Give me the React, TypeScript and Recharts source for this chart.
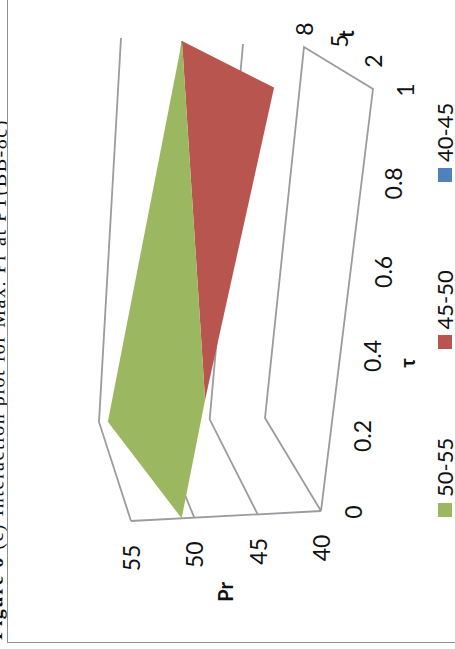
import React from 'react';
import { ScatterChart, Scatter, XAxis, YAxis, Polygon } from 'recharts';

const tauTicks = [0, 0.2, 0.4, 0.6, 0.8, 1];
const tTicks = [2, 5, 8];
const prTicks = [40, 45, 50, 55];

// surface corners as [tau, t, Pr]
const band5055: number[][] = [[0, 2, 51], [0, 8, 54.2], [1, 8, 50], [0.3, 2, 50]];
const band4550: number[][] = [[1, 8, 50], [1, 2, 47.1], [0.3, 2, 50]];

const legendNames = ['50-55', '45-50', '40-45'];

const GREEN = '#9bb75f';
const RED = '#b9554f';
const BLUE = '#4f81bd';
const legendColors = [GREEN, RED, BLUE];
const GRID = '#9b9ba0';
const FONT = 'Lato, sans-serif';

// box corners of the 3D view on the (rotated) page, Pr 40 then Pr 55
const floor = { a: [138, 321], b: [560, 373], c: [602, 304], d: [231, 265] };
const roof = { a: [128, 131], b: [563, 164], c: [611, 121], d: [227, 99] };

const mix = (p: number[], q: number[], f: number) => [p[0] + (q[0] - p[0]) * f, p[1] + (q[1] - p[1]) * f];

function project(tau: number, t: number, pr: number) {
  // tau axis is foreshortened a little by the perspective
  const k = 0.88;
  const a = (tau * k) / (1 + (k - 1) * tau);
  const s = (t - 2) / 6;
  const h = (pr - 40) / 15;
  const low = mix(mix(floor.a, floor.b, a), mix(floor.d, floor.c, a), s);
  const high = mix(mix(roof.a, roof.b, a), mix(roof.d, roof.c, a), s);
  const [u, v] = mix(low, high, h);
  return { u, v };
}

const toPoints = (rows: number[][]) => rows.map(([tau, t, pr]) => project(tau, t, pr));

const floorLine = toPoints([[0, 2, 40], [0, 8, 40], [1, 8, 40], [1, 2, 40], [0, 2, 40]]);
const prAxisLine = toPoints([[0, 2, 40], [0, 2, 55]]);
const wallLines = prTicks.slice(1).map(pr => toPoints([[0, 2, pr], [0, 8, pr], [1, 8, pr]]));

const tShift = [28, 27, 18];
const tauLabels = tauTicks.map(tau => {
  const p = project(tau, 2, 40);
  return { u: p.u - 1, v: p.v + 32, label: String(tau) };
});
const prLabels = prTicks.map(pr => {
  const p = project(0, 2, pr);
  return { u: p.u - 37, v: p.v, label: String(pr) };
});
const tLabels = tTicks.map((t, i) => {
  const p = project(1, t, 40);
  return { u: p.u + tShift[i], v: p.v, label: String(t) };
});
const titles = [
  { u: 57, v: 225, label: 'Pr' },
  { u: 286, v: 407, label: 'τ' },
  { u: 615, v: 346, label: 't' }
];

const noDot = () => <g />;

const fillShape = (color: string) => (props: any) => (
  <Polygon points={props.points} fill={color} stroke="none" />
);

const textDot = (bold: boolean) => (props: any) => (
  <text
    x={props.cx}
    y={props.cy}
    textAnchor="middle"
    dominantBaseline="central"
    fontFamily={FONT}
    fontSize={bold ? 20 : 23}
    fontWeight={bold ? 700 : 400}
    fill="#111"
  >
    {props.payload.label}
  </text>
);

export default function App() {
  return (
    <div style={{ position: 'fixed', left: 0, top: 0, width: 455, height: 649, overflow: 'hidden', background: '#fff' }}>
      <div
        style={{
          position: 'absolute',
          left: 0,
          top: 0,
          width: 649,
          height: 455,
          transformOrigin: '0 0',
          transform: 'translateY(649px) rotate(-90deg)'
        }}
      >
        {/* caption of the scanned page, cut by the chart frame and slightly tilted */}
        <div style={{ position: 'absolute', left: 0, top: 0, width: 649, height: 7, overflow: 'hidden' }}>
          <div
            style={{
              position: 'absolute',
              left: 9,
              top: -17,
              whiteSpace: 'nowrap',
              fontFamily: '"Liberation Serif", serif',
              fontSize: 20,
              letterSpacing: 1.55,
              lineHeight: '24px',
              color: '#111',
              transformOrigin: '0 50%',
              transform: 'rotate(0.5deg)'
            }}
          >
            <b>Figure 6</b> (c) Interaction plot for Max. Pr at PT(BB-8c)
          </div>
        </div>
        <div
          style={{
            position: 'absolute',
            left: 6,
            top: 7,
            right: 0,
            bottom: 0,
            borderLeft: '1.5px solid #909090',
            borderTop: '1.5px solid #909090'
          }}
        />
        <div
          style={{
            position: 'absolute',
            left: 132,
            top: 432,
            display: 'flex',
            fontFamily: FONT,
            fontSize: 22,
            lineHeight: '26px',
            color: '#111'
          }}
        >
          {legendNames.map((name, i) => (
            <div key={name} style={{ width: 167.5, flex: 'none', display: 'flex', alignItems: 'center', whiteSpace: 'nowrap' }}>
              <span style={{ width: 14, height: 14, flex: 'none', background: legendColors[i], marginRight: 6 }} />
              {name}
            </div>
          ))}
        </div>
        <ScatterChart width={649} height={455} margin={{ top: 0, right: 0, bottom: 0, left: 0 }} style={{ position: 'absolute', left: 0, top: 0 }}>
          <XAxis type="number" dataKey="u" domain={[0, 649]} hide />
          <YAxis type="number" dataKey="v" domain={[0, 455]} reversed hide />
          <Scatter data={floorLine} shape={noDot} line={{ stroke: GRID, strokeWidth: 1.8 }} isAnimationActive={false} />
          <Scatter data={prAxisLine} shape={noDot} line={{ stroke: GRID, strokeWidth: 1.8 }} isAnimationActive={false} />
          {wallLines.map((rows, i) => (
            <Scatter key={prTicks[i + 1]} data={rows} shape={noDot} line={{ stroke: GRID, strokeWidth: 1.8 }} isAnimationActive={false} />
          ))}
          <Scatter name="45-50" data={toPoints(band4550)} fill={RED} shape={noDot} line={fillShape(RED)} isAnimationActive={false} />
          <Scatter name="50-55" data={toPoints(band5055)} fill={GREEN} shape={noDot} line={fillShape(GREEN)} isAnimationActive={false} />
          <Scatter data={tauLabels} shape={textDot(false)} isAnimationActive={false} />
          <Scatter data={prLabels} shape={textDot(false)} isAnimationActive={false} />
          <Scatter data={tLabels} shape={textDot(false)} isAnimationActive={false} />
          <Scatter data={titles} shape={textDot(true)} isAnimationActive={false} />
        </ScatterChart>
      </div>
    </div>
  );
}
